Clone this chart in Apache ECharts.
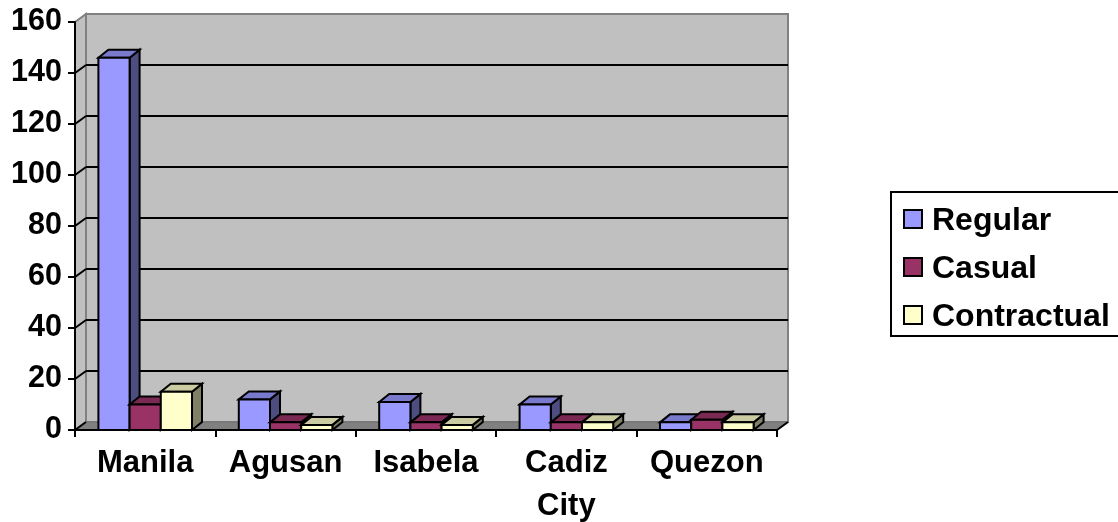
<!DOCTYPE html>
<html>
<head>
<meta charset="utf-8">
<style>html,body{margin:0;padding:0;background:#fff;overflow:hidden}#c{width:1118px;height:522px}</style>
<script src="https://cdn.jsdelivr.net/npm/echarts@6/dist/echarts.min.js"></script>
</head>
<body>
<div id="c"></div>
<script>
const categories = ['Manila', 'Agusan', 'Isabela', 'Cadiz\nCity', 'Quezon'];
const yTicks = [0, 20, 40, 60, 80, 100, 120, 140, 160];
const regular = [146, 12, 11, 10, 3];
const casual = [10, 3, 3, 3, 4];
const contractual = [15, 2, 2, 3, 3];

const FONT = '"Liberation Sans", Arial, sans-serif';
const DX = 10, DY = 8, WALL_DX = 11, WALL_DY = 8;
const poly = (points, fill, stroke, w) => ({
  type: 'polygon',
  shape: { points },
  style: { fill, stroke, lineWidth: w, lineJoin: 'miter' }
});
const line = (x1, y1, x2, y2, stroke, w) => ({
  type: 'line',
  shape: { x1, y1, x2, y2 },
  style: { stroke, lineWidth: w }
});

function barRenderer(slot, front, top, side) {
  return function (params, api) {
    const i = api.value(0), v = api.value(1);
    const band = api.size([1, 0])[0];
    const bw = band / 4.5;
    const base = api.coord([i, 0]);
    const peak = api.coord([i, v]);
    const x0 = base[0] - 1.5 * bw + slot * bw;
    const x1 = x0 + bw;
    const yb = base[1], yt = peak[1];
    return {
      type: 'group',
      children: [
        poly([[x1, yb], [x1 + DX, yb - DY], [x1 + DX, yt - DY], [x1, yt]], side, '#000', 2),
        poly([[x0, yt], [x0 + DX, yt - DY], [x1 + DX, yt - DY], [x1, yt]], top, '#000', 2),
        poly([[x0, yb], [x1, yb], [x1, yt], [x0, yt]], front, '#000', 2)
      ]
    };
  };
}

function backdrop(params, api) {
  const tick = api.value(0);
  const cs = params.coordSys;
  const L = cs.x, R = cs.x + cs.width;
  const p = api.coord([0, tick]);
  const y = p[1];
  const children = [];
  if (tick === 0) {
    const T = cs.y, B = cs.y + cs.height;
    children.push(
      poly([[L + WALL_DX, T - WALL_DY], [R + WALL_DX, T - WALL_DY], [R + WALL_DX, B - WALL_DY], [L + WALL_DX, B - WALL_DY]], '#c0c0c0', '#808080', 2),
      poly([[L, T], [L + WALL_DX, T - WALL_DY], [L + WALL_DX, B - WALL_DY], [L, B]], '#c0c0c0', '#808080', 2),
      poly([[L, B], [L + WALL_DX, B - WALL_DY], [R + WALL_DX, B - WALL_DY], [R, B]], '#808080', '#707070', 1),
      line(R, B, R + WALL_DX, B - WALL_DY, '#000', 2),
      line(L, B, L + WALL_DX, B - WALL_DY, '#000', 2)
    );
  } else if (tick < yTicks[yTicks.length - 1]) {
    children.push(
      line(L + WALL_DX, y - WALL_DY, R + WALL_DX, y - WALL_DY, '#000', 2),
      line(L, y, L + WALL_DX, y - WALL_DY, '#000', 2)
    );
  }
  return { type: 'group', children };
}

const barSeries = (name, values, slot, front, top, side) => ({
  name,
  type: 'custom',
  z: 3 + slot,
  clip: false,
  renderItem: barRenderer(slot, front, top, side),
  encode: { x: 0, y: 1 },
  itemStyle: { color: front },
  data: values.map((v, i) => [categories[i], v])
});

const chart = echarts.init(document.getElementById('c'), null, { renderer: 'canvas' });
chart.setOption({
  animation: false,
  backgroundColor: '#fff',
  textStyle: { fontFamily: FONT },
  grid: { left: 75, top: 22, width: 702, height: 408, containLabel: false, outerBoundsMode: 'none' },
  xAxis: {
    type: 'category',
    data: categories,
    z: 10,
    axisLine: { show: true, onZero: false, lineStyle: { color: '#000', width: 2 } },
    axisTick: { show: true, alignWithLabel: false, length: 7, lineStyle: { color: '#000', width: 2 } },
    axisLabel: { color: '#000', fontFamily: FONT, fontWeight: 'bold', fontSize: 31, margin: 12, lineHeight: 43, interval: 0, hideOverlap: false }
  },
  yAxis: {
    type: 'value',
    min: 0,
    max: 160,
    interval: 20,
    z: 10,
    splitLine: { show: false },
    axisLine: { show: true, lineStyle: { color: '#000', width: 2 } },
    axisTick: { show: true, length: 7, lineStyle: { color: '#000', width: 2 } },
    axisLabel: { color: '#000', fontFamily: FONT, fontWeight: 'bold', fontSize: 30.5, margin: 13, verticalAlign: 'middle', padding: [0, 0, 1, 0] }
  },
  legend: {
    left: 891,
    top: 192,
    orient: 'vertical',
    selectedMode: false,
    backgroundColor: '#fff',
    borderColor: '#000',
    borderWidth: 2,
    padding: [13, 30, 3, 12],
    itemWidth: 18,
    itemHeight: 18,
    itemGap: 16,
    icon: 'rect',
    formatter: name => '{t|' + name + '}',
    data: [
      { name: 'Regular', itemStyle: { color: '#9999ff', borderColor: '#000', borderWidth: 2 } },
      { name: 'Casual', itemStyle: { color: '#993366', borderColor: '#000', borderWidth: 2 } },
      { name: 'Contractual', itemStyle: { color: '#ffffcc', borderColor: '#000', borderWidth: 2 } }
    ],
    textStyle: {
      color: '#000', fontFamily: FONT, fontWeight: 'bold', fontSize: 32, padding: [0, 0, 0, 5],
      rich: { t: { color: '#000', fontFamily: FONT, fontWeight: 'bold', fontSize: 32, padding: [4, 0, 0, 0] } }
    }
  },
  series: [
    {
      type: 'custom',
      z: 1,
      clip: false,
      silent: true,
      renderItem: backdrop,
      encode: { y: 0 },
      data: yTicks.map(t => [t])
    },
    barSeries('Regular', regular, 0, '#9999ff', '#7a7acc', '#4d4d80'),
    barSeries('Casual', casual, 1, '#993366', '#7a2952', '#4d1a33'),
    barSeries('Contractual', contractual, 2, '#ffffcc', '#cccca3', '#808066')
  ]
});
</script>
</body>
</html>
